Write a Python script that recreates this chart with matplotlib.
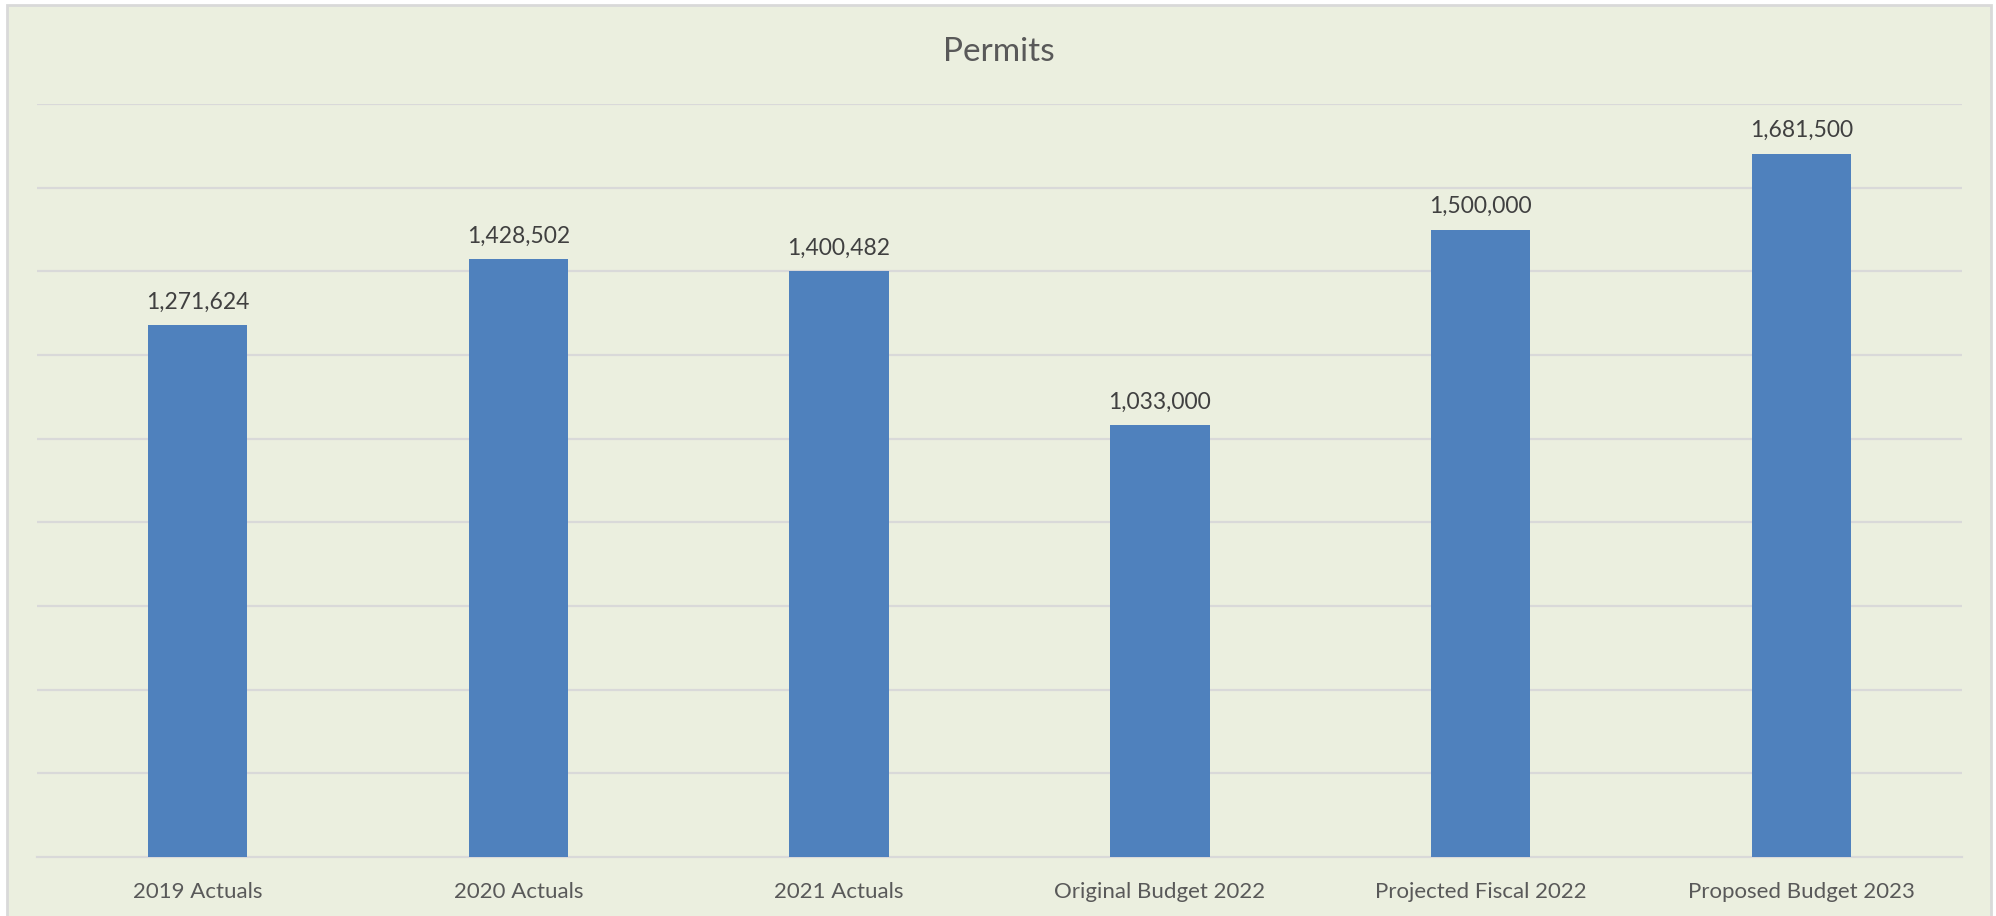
import numpy as np
import matplotlib.pyplot as plt
from matplotlib.patches import Rectangle

categories = ['2019 Actuals', '2020 Actuals', '2021 Actuals',
              'Original Budget 2022', 'Projected Fiscal 2022', 'Proposed Budget 2023']
values = [1271624, 1428502, 1400482, 1033000, 1500000, 1681500]

bg = '#EBEFDF'
grid_c = '#D9D9D9'
bar_c = '#4F81BD'

plt.rcParams['font.family'] = ['Lato', 'DejaVu Sans']

fig = plt.figure(figsize=(19.96, 9.16), dpi=100, facecolor='white')
W, H = 1996, 916
# chart area box with light border (behind the axes)
fig.patches.append(Rectangle((7 / W, -0.05), (1991 - 7) / W, 1.05 - 5 / H,
                             transform=fig.transFigure, facecolor=bg,
                             edgecolor=grid_c, linewidth=2, zorder=-10))

ax = fig.add_axes([37 / W, 1 - 857 / H, (1962 - 37) / W, (857 - 104) / H])
ax.set_facecolor('none')
ax.set_zorder(1)

x = np.arange(len(categories))
ax.bar(x, values, width=0.31, color=bar_c, zorder=3)

for xi, v in zip(x, values):
    ax.annotate(f'{v:,}', (xi, v), xytext=(0, 9), textcoords='offset points',
                ha='center', va='bottom', fontsize=16.5, color='#404040')

ax.set_xlim(-0.5, len(categories) - 0.5)
ax.set_ylim(0, 1800000)
ax.set_yticks(np.arange(200000, 1800001, 200000))
ax.yaxis.grid(True, color=grid_c, linewidth=1.6, zorder=0)
ax.set_axisbelow(True)
ax.set_yticklabels([])
ax.tick_params(axis='y', length=0)
ax.set_xticks(x)
ax.set_xticklabels(categories, fontsize=16, color='#595959')
ax.tick_params(axis='x', length=0, pad=18)

for side in ['top', 'right', 'left']:
    ax.spines[side].set_visible(False)
ax.spines['bottom'].set_color(grid_c)
ax.spines['bottom'].set_linewidth(1.6)

fig.text(999 / W, 1 - 52 / H, 'Permits', ha='center', va='center',
         fontsize=24, color='#595959')

fig.savefig('out.png', dpi=100)
